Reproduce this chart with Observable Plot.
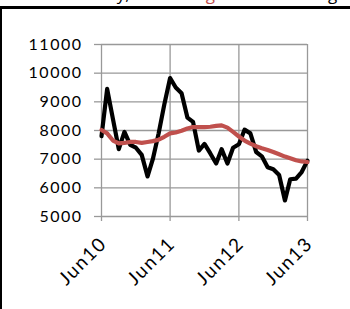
<!DOCTYPE html>
<html>
<head>
<meta charset="utf-8">
<script src="https://cdn.jsdelivr.net/npm/d3@7"></script>
<script src="https://cdn.jsdelivr.net/npm/@observablehq/plot@0.6"></script>
<style>
  html, body { margin: 0; padding: 0; background: #fff; width: 350px; height: 309px; overflow: hidden; }
  #title { position: absolute; left: 60px; top: -13px; font-family: "Open Sans", sans-serif; font-size: 17px; line-height: 14px; white-space: nowrap; color: #000; }
  #title .red { color: #c0504d; }
  #frame { position: absolute; left: 0; top: 6px; width: 350px; height: 303px; box-sizing: border-box; border-top: 3px solid #000; border-left: 2px solid #000; }
  #chart { position: absolute; left: 0; top: 0; }
</style>
</head>
<body>
<div id="title">Monthly, and <span class="red">orange</span> 12 month avg</div>
<div id="frame"></div>
<div id="chart"></div>
<script>
const months = [
  "2010-06","2010-07","2010-08","2010-09","2010-10","2010-11","2010-12",
  "2011-01","2011-02","2011-03","2011-04","2011-05","2011-06","2011-07","2011-08","2011-09","2011-10","2011-11","2011-12",
  "2012-01","2012-02","2012-03","2012-04","2012-05","2012-06","2012-07","2012-08","2012-09","2012-10","2012-11","2012-12",
  "2013-01","2013-02","2013-03","2013-04","2013-05","2013-06"
];
const monthly = [
  7800, 9450, 8400, 7350, 7950, 7500, 7400,
  7150, 6400, 7000, 7900, 8900, 9830, 9500, 9300, 8450, 8300, 7300, 7530,
  7200, 6850, 7350, 6850, 7400, 7520, 8030, 7900, 7250, 7100, 6720, 6650,
  6450, 5560, 6300, 6320, 6550, 6950
];
const average = [
  8020, 7900, 7650, 7550, 7570, 7600, 7600,
  7570, 7600, 7630, 7680, 7780, 7900, 7930, 7990, 8070, 8120, 8120, 8120,
  8130, 8160, 8180, 8100, 7950, 7790, 7650, 7540, 7450, 7380, 7320, 7250,
  7170, 7090, 7030, 6960, 6920, 6900
];
const xTickMonths = ["2010-06", "2011-06", "2012-06", "2013-06"];
const xTickLabels = ["Jun10", "Jun11", "Jun12", "Jun13"];
const yTicks = [5000, 6000, 7000, 8000, 9000, 10000, 11000];

const parse = d3.utcParse("%Y-%m");
const data = months.map((m, i) => ({date: parse(m), monthly: monthly[i], average: average[i]}));
const xTicks = xTickMonths.map(parse);
const xLabelData = xTicks.map((d, i) => ({date: d, label: xTickLabels[i]}));

const chart = Plot.plot({
  width: 350,
  height: 309,
  marginTop: 44,
  marginBottom: 93,
  marginLeft: 101,
  marginRight: 43,
  style: {fontFamily: "Lato, sans-serif", fontSize: "16px", color: "#000", background: "transparent", letterSpacing: "1.5px"},
  x: {type: "utc", domain: [parse("2010-06"), parse("2013-06")]},
  y: {domain: [5000, 11000]},
  marks: [
    Plot.gridY(yTicks, {stroke: "#999", strokeOpacity: 1, strokeWidth: 1.3}),
    Plot.gridX(xTicks, {stroke: "#999", strokeOpacity: 1, strokeWidth: 1.3}),
    Plot.axisY(yTicks, {tickSize: 7, tickPadding: 12, stroke: "#999", strokeWidth: 1.3, tickFormat: d => String(d)}),
    Plot.axisX(xTicks, {tickSize: 5, stroke: "#999", strokeWidth: 1.3, tickFormat: () => ""}),
    Plot.text(xLabelData, {x: "date", text: "label", frameAnchor: "bottom", rotate: -45, textAnchor: "end", lineAnchor: "middle", dx: 2, dy: 24, fontSize: 19, style: {letterSpacing: "0.5px"}}),
    Plot.line(data, {x: "date", y: "monthly", stroke: "#000", strokeWidth: 4.2, strokeLinejoin: "round"}),
    Plot.line(data, {x: "date", y: "average", stroke: "#c0504d", strokeWidth: 4.2, strokeLinejoin: "round"})
  ]
});
document.getElementById("chart").appendChild(chart);
</script>
</body>
</html>
